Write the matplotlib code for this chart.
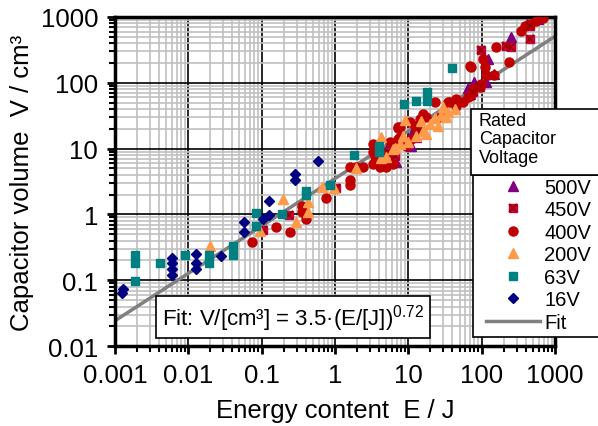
import matplotlib
matplotlib.use('Agg')
import matplotlib.pyplot as plt
from matplotlib.patches import Rectangle
import numpy as np

plt.rcParams['font.family'] = ['Liberation Sans', 'DejaVu Sans']
plt.rcParams['mathtext.fontset'] = 'custom'
plt.rcParams['mathtext.rm'] = 'Liberation Sans'

# 16V
e16 = [0.00125, 0.0013, 0.006, 0.006, 0.006, 0.006, 0.0127, 0.0127, 0.0127, 0.028,
       0.058, 0.058, 0.104, 0.128, 0.128, 0.286, 0.286, 0.58]
v16 = [0.065, 0.075, 0.22, 0.18, 0.15, 0.12, 0.25, 0.18, 0.148, 0.23,
       0.78, 0.54, 0.85, 1.6, 0.98, 4.1, 3.3, 6.5]
# 63V
e63 = [0.0019, 0.0019, 0.0019, 0.0041, 0.0091, 0.019, 0.019, 0.041, 0.041, 0.084, 0.084,
       0.19, 0.41, 0.41, 0.87, 1.8, 4.0, 4.0, 8.7, 12.6, 18, 18, 39]
v63 = [0.24, 0.18, 0.098, 0.18, 0.24, 0.24, 0.18, 0.33, 0.24, 1.05, 0.66,
       1.0, 2.3, 1.95, 2.8, 8.0, 11, 8.8, 48, 52, 72, 52, 168]
# 200V
e200 = [0.02, 0.095, 0.195, 0.295, 0.425, 0.425, 0.66, 0.98, 1.97, 4.3, 4.3, 5.0, 6.2, 6.5,
        7.7, 8.5, 9.0, 9.9, 12.9, 15.1, 16, 17.7, 19.6, 23, 25.4, 28.3, 30, 33, 35, 43]
v200 = [0.33, 0.56, 1.7, 0.76, 1.53, 1.08, 2.6, 2.5, 5.0, 15, 7.1, 7.4, 9.9, 10.1,
        11.7, 15.7, 27, 12.5, 15.4, 26.5, 18.7, 16.7, 23.6, 28.9, 22.3, 32.4, 42.5, 30, 36.4, 40]
# 400V
e400 = [0.074, 0.16, 0.244, 0.352, 0.352, 0.41, 0.75, 1.6, 1.6, 1.6, 1.97, 2.43, 3.3, 3.3,
        3.3, 3.5, 3.5, 3.5, 4.15, 4.9, 5.05, 5.6, 6.2, 7.3, 7.3, 7.3, 7.66, 7.66, 9.4, 10.5,
        10.9, 13.8, 12.3, 14.3, 15.9, 17.7, 23, 28.3, 34.8, 36.6, 45, 45.3, 55.7, 66, 68.7,
        68.7, 72.4, 77, 94, 99, 104, 110, 116, 146, 158, 240, 347, 385, 460, 555, 683]
v400 = [0.385, 0.64, 0.546, 1.36, 1.08, 0.85, 1.76, 5.2, 3.37, 2.8, 5.2, 5.2, 5.8, 11.7,
        8.8, 8.3, 7.8, 6.2, 5.2, 5.2, 8.3, 12.5, 5.8, 20.3, 21, 14, 21, 14.9, 11, 25,
        14, 18.7, 22.3, 27.9, 33.8, 30, 50.6, 30, 50.6, 50.6, 45, 56.7, 50.6, 60, 178,
        63.7, 172, 80.5, 85.5, 96, 230, 172, 131, 131, 354, 209, 619, 738, 780, 879, 955]
# 450V
e450 = [0.106, 0.24, 1.05, 5.3, 6.5, 14.3, 77, 94, 99, 217, 250, 450, 460]
v450 = [0.585, 0.98, 2.5, 9.0, 7.8, 18.7, 72.6, 85.5, 320, 366, 350, 455, 740]
# 500V
e500 = [5.3, 6.9, 10.9, 11.5, 12.9, 26.6, 66, 68.7, 80, 116, 123, 146, 250, 420, 590]
v500 = [10.4, 6.2, 11, 18.7, 14.9, 31.6, 82, 67.6, 102, 102, 230, 135, 491, 780, 933]

fit_a = 3.5
fit_b = 0.72

fig = plt.figure(figsize=(5.98, 4.27), dpi=100)
ax = fig.add_axes([0.192, 0.187, 0.736, 0.771])

ax.set_xscale('log')
ax.set_yscale('log')
ax.set_xlim(0.001, 1000)
ax.set_ylim(0.01, 1000)

ax.grid(True, which='minor', color='#c0c0c0', lw=1.2, zorder=0)
ax.grid(True, which='major', color='black', lw=1.2, zorder=0.5)
ax.set_axisbelow(True)

ms = 6.5
h500, = ax.plot(e500, v500, '^', color='#800080', ms=ms, ls='none', zorder=3)
h450s, = ax.plot(e450, v450, 's', color='#c8004b', ms=ms - 1, ls='none', zorder=3)
h450x, = ax.plot(e450, v450, 'x', color='#a00000', ms=ms - 1, mew=1.5, ls='none', zorder=3.1)
h400, = ax.plot(e400, v400, 'o', color='#c00000', ms=ms, ls='none', zorder=3)
h200, = ax.plot(e200, v200, '^', color='#ff9a4a', ms=ms + 0.5, ls='none', zorder=3.2)
h63, = ax.plot(e63, v63, 's', color='#008080', ms=ms - 0.5, ls='none', zorder=3.3)
h16, = ax.plot(e16, v16, 'D', color='#000080', ms=ms - 1, ls='none', zorder=3.4)

xf = np.array([0.001, 1000])
hfit, = ax.plot(xf, fit_a * xf ** fit_b, color='#808080', lw=2.5, zorder=2.5)

ax.set_xticks([0.001, 0.01, 0.1, 1, 10, 100, 1000])
ax.set_xticklabels(['0.001', '0.01', '0.1', '1', '10', '100', '1000'])
ax.set_yticks([0.01, 0.1, 1, 10, 100, 1000])
ax.set_yticklabels(['0.01', '0.1', '1', '10', '100', '1000'])
ax.tick_params(which='major', direction='out', length=6, width=2, labelsize=18.5, pad=6)
ax.tick_params(which='minor', direction='out', length=4, width=1.5)
for s in ax.spines.values():
    s.set_linewidth(2.5)

ax.set_xlabel('Energy content  E / J', fontsize=18.5)
ax.set_ylabel('Capacitor volume  V / cm³', fontsize=18.5)
ax.xaxis.set_label_coords(0.5, -0.195)
ax.yaxis.set_label_coords(-0.21, 0.5)
ax.xaxis.label.set_va('center')
ax.yaxis.label.set_va('center')

ax.text(0.405, 0.088, 'Fit: V/[cm³] = 3.5·(E/[J])$^{0.72}$', transform=ax.transAxes,
        ha='center', va='center', fontsize=16, zorder=5,
        bbox=dict(boxstyle='square,pad=0.25', fc='white', ec='black', lw=1.2))

# legend title box and frame
fig.patches.append(Rectangle((471 / 598, 1 - 176 / 427), 140 / 598, 66 / 427,
                             transform=fig.transFigure, fc='white', ec='black', lw=1.2, zorder=10))
fig.text(479 / 598, 1 - 113 / 427, 'Rated\nCapacitor\nVoltage', fontsize=13,
         va='top', ha='left', linespacing=1.1, zorder=11)
fig.patches.append(Rectangle((473 / 598, 1 - 338 / 427), 140 / 598, 162 / 427,
                             transform=fig.transFigure, fc='white', ec='black', lw=1.2, zorder=9))
handles = [h500, (h450s, h450x), h400, h200, h63, h16, hfit]
labels = ['500V', '450V', '400V', '200V', '63V', '16V', 'Fit']
leg = fig.legend(handles, labels, loc='upper left', bbox_to_anchor=(484 / 598, 1 - 177 / 427),
                 frameon=False, fontsize=14.5, handlelength=2.7, handletextpad=0.2,
                 labelspacing=0.17, borderpad=0.1, borderaxespad=0)
leg.set_zorder(12)

fig.savefig('out.png', dpi=100)
